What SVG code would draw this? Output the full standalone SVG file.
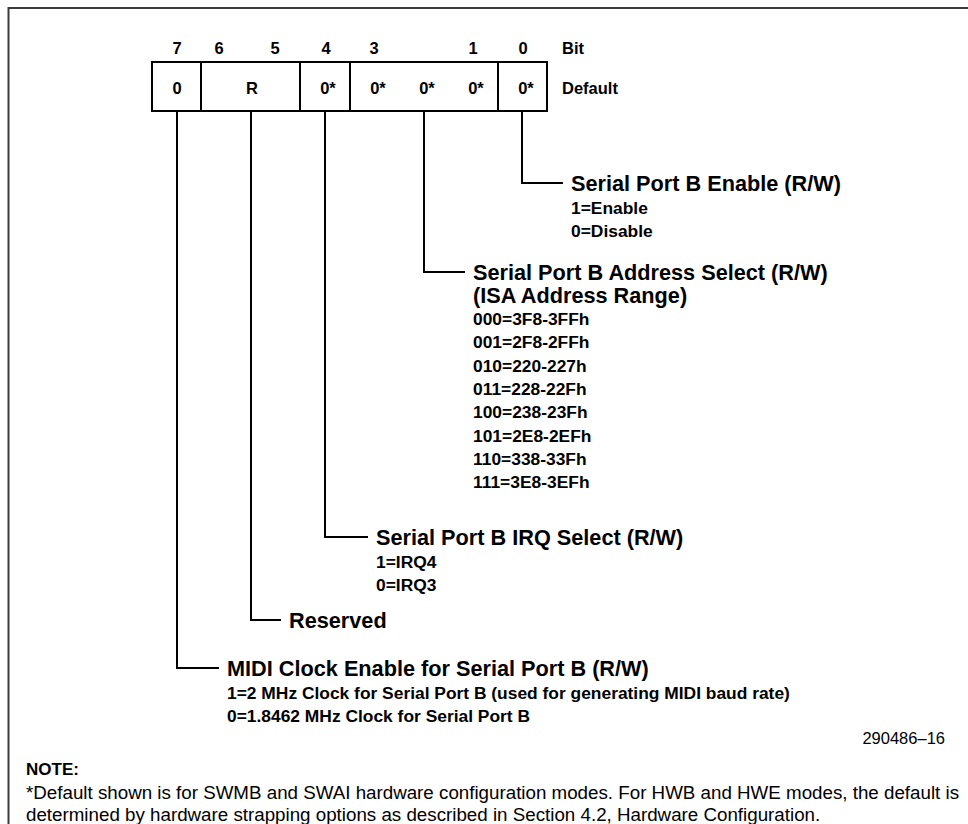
<svg xmlns="http://www.w3.org/2000/svg" width="968" height="824" viewBox="0 0 968 824">
<style>
.hd{font-family:"Liberation Sans",Arial,sans-serif;font-weight:bold;font-size:16.5px;fill:#000}
.ti{font-family:"Liberation Sans",Arial,sans-serif;font-weight:bold;font-size:21.7px;fill:#000}
.sb{font-family:"Liberation Sans",Arial,sans-serif;font-weight:bold;font-size:17.4px;fill:#000}
.nt{font-family:"Liberation Sans",Arial,sans-serif;font-size:18.75px;fill:#000}
.ntb{font-family:"Liberation Sans",Arial,sans-serif;font-weight:bold;font-size:17px;fill:#000}
.ref{font-family:"Liberation Sans",Arial,sans-serif;font-size:16.5px;fill:#000}
.c{text-anchor:middle}
.ln{fill:none;stroke:#000;stroke-width:2}
.fr{fill:none;stroke:#3a3a3a;stroke-width:2}
</style>
<rect width="968" height="824" fill="#fff"/>
<path class="fr" d="M8.5,824 V8 H968"/>
<g id="register">
<rect class="ln" x="152" y="62" width="395" height="49" fill="#fff"/>
<path class="ln" d="M201,62V111M300,62V111M350,62V111M498,62V111"/>
<g class="hd c">
<text x="177" y="54">7</text>
<text x="219" y="54">6</text>
<text x="275" y="54">5</text>
<text x="326" y="54">4</text>
<text x="374" y="54">3</text>
<text x="473" y="54">1</text>
<text x="523" y="54">0</text>
<text x="177" y="94">0</text>
<text x="252" y="94">R</text>
<text x="328" y="94">0*</text>
<text x="378" y="94">0*</text>
<text x="427" y="94">0*</text>
<text x="476" y="94">0*</text>
<text x="526" y="94">0*</text>
</g>
<text class="hd" x="562" y="54">Bit</text>
<text class="hd" x="562" y="94">Default</text>
</g>
<g id="connectors">
<path class="ln" d="M522,111V183H563"/>
<path class="ln" d="M424,111V272H465"/>
<path class="ln" d="M325,111V537H368"/>
<path class="ln" d="M251,111V620H281"/>
<path class="ln" d="M177,111V668H219"/>
</g>
<g id="bit0">
<text class="ti" x="571" y="190.5">Serial Port B Enable (R/W)</text>
<text class="sb" x="571" y="214">1=Enable</text>
<text class="sb" x="571" y="237">0=Disable</text>
</g>
<g id="bits3-1">
<text class="ti" x="473" y="279.5">Serial Port B Address Select (R/W)</text>
<text class="ti" x="473" y="302.5">(ISA Address Range)</text>
<text class="sb" x="473" y="325">000=3F8-3FFh</text>
<text class="sb" x="473" y="348.3">001=2F8-2FFh</text>
<text class="sb" x="473" y="371.6">010=220-227h</text>
<text class="sb" x="473" y="395">011=228-22Fh</text>
<text class="sb" x="473" y="418.3">100=238-23Fh</text>
<text class="sb" x="473" y="441.6">101=2E8-2EFh</text>
<text class="sb" x="473" y="465">110=338-33Fh</text>
<text class="sb" x="473" y="488.3">111=3E8-3EFh</text>
</g>
<g id="bit4">
<text class="ti" x="376" y="544.5">Serial Port B IRQ Select (R/W)</text>
<text class="sb" x="376" y="567.5">1=IRQ4</text>
<text class="sb" x="376" y="590.5">0=IRQ3</text>
</g>
<g id="bits6-5">
<text class="ti" x="289" y="627.5">Reserved</text>
</g>
<g id="bit7">
<text class="ti" x="227" y="675.5">MIDI Clock Enable for Serial Port B (R/W)</text>
<text class="sb" x="227" y="698.5">1=2 MHz Clock for Serial Port B (used for generating MIDI baud rate)</text>
<text class="sb" x="227" y="721.5">0=1.8462 MHz Clock for Serial Port B</text>
</g>
<text class="ref" x="945" y="744" text-anchor="end">290486–16</text>
<g id="note">
<text class="ntb" x="26" y="775">NOTE:</text>
<text class="nt" x="26" y="798.5">*Default shown is for SWMB and SWAI hardware configuration modes. For HWB and HWE modes, the default is</text>
<text class="nt" x="26" y="820.5">determined by hardware strapping options as described in Section 4.2, Hardware Configuration.</text>
</g>
</svg>
